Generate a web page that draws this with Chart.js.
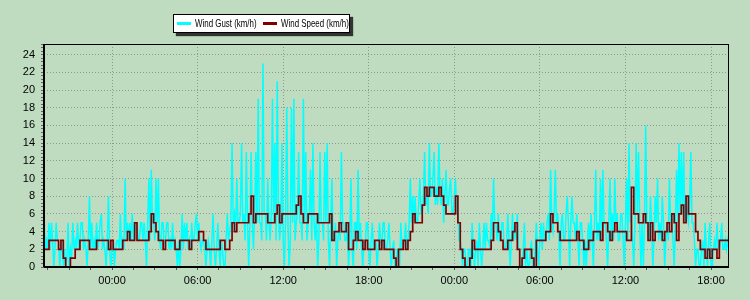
<!DOCTYPE html>
<html>
<head>
<meta charset="utf-8">
<script src="https://cdn.jsdelivr.net/npm/chart.js@4.4.0/dist/chart.umd.min.js"></script>
<style>
  html, body { margin: 0; padding: 0; background: #c0dcc0; }
  #wrap { position: relative; width: 750px; height: 300px; }
  #legend {
    position: absolute; left: 173px; top: 14px; width: 177px; height: 19px;
    box-sizing: border-box; border: 1px solid #000; background: #fff;
    box-shadow: 3px 3px 1px #333;
    font: 11px Arial, "Liberation Sans", sans-serif; color: #000;
  }
  #legend .sw { position: absolute; top: 7px; width: 14px; height: 3px; }
  #legend .txt {
    position: absolute; top: 2px; line-height: 13px; white-space: nowrap;
    transform: scaleX(0.72); transform-origin: 0 50%;
  }
</style>
</head>
<body>
<div id="wrap">
  <canvas id="chart" width="750" height="300"></canvas>
  <div id="legend"></div>
</div>
<script>
// hours relative to the first midnight; both series start at 19:15
const startHour = -4.75;
const gustStep = 1 / 12;   // every 5 minutes
const speedStep = 1 / 6;   // every 10 minutes

// wind gust, one row per hour
const gust = [
  5, 2, 3, 2, 5, 2, 5, 3, 0, 2, 5, 3,
  3, 0, 2, 3, 0, 2, 0, 1, 5, 0, 2, 1,
  5, 2, 3, 2, 5, 2, 3, 5, 5, 2, 3, 2,
  0, 3, 8, 2, 5, 2, 3, 2, 5, 2, 3, 5,
  6, 2, 3, 2, 0, 3, 8, 2, 0, 2, 3, 0,
  2, 3, 3, 2, 6, 2, 3, 2, 10, 3, 5, 3,
  5, 3, 6, 3, 3, 5, 5, 3, 3, 5, 5, 3,
  5, 3, 0, 5, 10, 3, 11, 5, 5, 3, 10, 5,
  10, 3, 2, 5, 5, 2, 3, 5, 5, 2, 3, 2,
  5, 2, 3, 2, 0, 3, 0, 2, 6, 2, 5, 3,
  5, 2, 3, 2, 5, 3, 3, 5, 6, 3, 5, 3,
  2, 3, 3, 2, 0, 2, 3, 2, 0, 3, 6, 2,
  0, 2, 5, 2, 0, 3, 2, 0, 0, 3, 6, 3,
  4, 5, 14, 5, 6, 4, 10, 5, 5, 6, 14, 5,
  6, 3, 13, 5, 0, 5, 13, 5, 2, 6, 13, 5,
  19, 5, 5, 3, 23, 6, 6, 3, 10, 5, 3, 6,
  19, 5, 14, 3, 21, 6, 3, 5, 14, 3, 0, 5,
  18, 5, 0, 3, 18, 5, 19, 3, 5, 6, 13, 5,
  5, 3, 19, 5, 13, 3, 5, 6, 11, 3, 14, 5,
  3, 6, 0, 3, 13, 5, 5, 3, 13, 5, 14, 3,
  0, 5, 10, 3, 3, 5, 0, 3, 5, 3, 13, 5,
  5, 3, 3, 5, 0, 3, 10, 2, 0, 5, 5, 2,
  11, 3, 5, 2, 0, 3, 2, 5, 5, 2, 0, 3,
  5, 2, 2, 3, 0, 2, 5, 3, 2, 5, 5, 2,
  2, 3, 5, 2, 0, 2, 3, 0, 0, 2, 2, 0,
  5, 2, 2, 3, 5, 2, 3, 5, 10, 5, 8, 5,
  8, 5, 5, 7, 10, 6, 6, 8, 13, 7, 8, 6,
  14, 8, 8, 10, 13, 7, 9, 7, 14, 8, 7, 10,
  5, 8, 11, 7, 7, 9, 10, 6, 6, 8, 10, 6,
  6, 3, 3, 2, 0, 2, 2, 0, 0, 2, 2, 0,
  5, 2, 0, 2, 3, 0, 5, 2, 0, 2, 5, 2,
  5, 3, 3, 2, 6, 3, 10, 5, 5, 3, 6, 3,
  3, 5, 5, 2, 2, 3, 6, 3, 0, 3, 6, 3,
  5, 3, 6, 2, 2, 0, 0, 2, 5, 0, 2, 0,
  0, 2, 3, 0, 0, 2, 5, 2, 0, 3, 5, 2,
  5, 3, 3, 5, 6, 3, 11, 5, 4, 6, 11, 5,
  6, 3, 0, 5, 6, 3, 3, 6, 8, 5, 0, 5,
  8, 5, 5, 3, 6, 3, 0, 5, 5, 3, 0, 3,
  0, 3, 5, 2, 6, 3, 0, 5, 11, 3, 5, 3,
  10, 3, 11, 5, 5, 3, 0, 5, 10, 3, 6, 3,
  10, 5, 6, 3, 3, 6, 6, 3, 0, 5, 10, 3,
  14, 5, 6, 3, 0, 5, 14, 6, 13, 5, 0, 5,
  0, 5, 16, 5, 5, 3, 8, 5, 0, 3, 8, 5,
  10, 3, 5, 3, 8, 5, 0, 3, 5, 3, 10, 5,
  5, 3, 0, 5, 11, 5, 14, 6, 13, 6, 13, 5,
  8, 6, 5, 7, 13, 5, 5, 3, 0, 2, 2, 0,
  0, 2, 3, 0, 5, 2, 0, 3, 5, 0, 0, 2,
  3, 2, 5, 2, 2, 3, 5, 2, 2, 3, 2, 3,
  2
];

// wind speed, one row per hour
const speed = [
  2, 2, 3, 3, 3, 3,
  2, 3, 1, 0, 0, 1,
  1, 2, 2, 3, 3, 3,
  3, 2, 2, 2, 3, 3,
  3, 3, 3, 2, 3, 2,
  2, 2, 2, 3, 3, 4,
  3, 3, 5, 3, 3, 3,
  3, 3, 4, 6, 5, 4,
  3, 3, 2, 3, 3, 3,
  3, 2, 2, 3, 3, 3,
  3, 2, 3, 3, 3, 4,
  4, 3, 2, 2, 2, 2,
  2, 2, 3, 3, 2, 2,
  3, 5, 4, 5, 5, 5,
  5, 5, 6, 8, 5, 6,
  6, 6, 6, 6, 5, 5,
  5, 6, 7, 5, 6, 6,
  6, 6, 6, 6, 7, 8,
  6, 5, 5, 6, 6, 6,
  6, 5, 5, 5, 5, 5,
  6, 3, 4, 4, 5, 4,
  4, 5, 2, 2, 3, 4,
  3, 3, 2, 3, 2, 2,
  2, 3, 3, 2, 3, 2,
  2, 2, 2, 1, 0, 2,
  2, 3, 2, 3, 4, 6,
  5, 5, 5, 7, 9, 8,
  9, 9, 8, 8, 9, 8,
  7, 6, 6, 6, 6, 8,
  5, 2, 1, 0, 0, 1,
  3, 2, 2, 2, 2, 2,
  2, 2, 3, 5, 5, 4,
  3, 2, 2, 3, 3, 4,
  5, 2, 0, 1, 2, 2,
  2, 1, 0, 3, 3, 3,
  3, 4, 4, 6, 5, 5,
  4, 3, 3, 3, 3, 3,
  3, 3, 4, 3, 3, 2,
  2, 3, 3, 4, 4, 4,
  3, 5, 5, 4, 3, 4,
  5, 4, 4, 4, 4, 3,
  3, 9, 6, 6, 5, 5,
  6, 5, 3, 5, 3, 4,
  4, 4, 3, 4, 5, 4,
  6, 5, 3, 6, 7, 5,
  8, 6, 6, 6, 4, 3,
  2, 2, 1, 2, 1, 2,
  2, 1, 3, 3, 3, 3,
  3
];

const seriesNames = ['Wind Gust (km/h)', 'Wind Speed (km/h)'];
const seriesColors = ['#00ffff', '#800000'];

const toPoints = (arr, step) => arr.map((v, i) => ({ x: startHour + i * step, y: v }));

Chart.defaults.font.family = 'Arial, "Liberation Sans", sans-serif';
Chart.defaults.font.size = 11;
Chart.defaults.color = '#000';

// black frame around the plot, heavier on the left and bottom
const framePlugin = {
  id: 'frame',
  afterDraw(chart) {
    const { ctx, chartArea: a } = chart;
    ctx.save();
    ctx.strokeStyle = '#000';
    ctx.lineWidth = 1;
    ctx.strokeRect(a.left + 0.5, a.top + 0.5, a.right - a.left - 1, a.bottom - a.top);
    ctx.lineWidth = 2;
    ctx.beginPath();
    ctx.moveTo(a.left, a.bottom);
    ctx.lineTo(a.right, a.bottom);
    ctx.moveTo(a.left, a.top);
    ctx.lineTo(a.left, a.bottom);
    ctx.stroke();
    ctx.restore();
  }
};

const isMultiple = (v, m) => Math.abs(v / m - Math.round(v / m)) < 1e-6;

// ticks every 1.5 h, labelled every 6 h
function hourTicks(scale) {
  const ticks = [];
  for (let v = Math.ceil(scale.min / 1.5) * 1.5; v <= scale.max; v += 1.5) {
    ticks.push({ value: Math.round(v * 10) / 10 });
  }
  scale.ticks = ticks;
}

new Chart(document.getElementById('chart'), {
  type: 'line',
  data: {
    datasets: [
      {
        label: seriesNames[0],
        data: toPoints(gust, gustStep),
        borderColor: seriesColors[0],
        borderWidth: 1.5,
        pointRadius: 0,
        tension: 0,
        order: 2
      },
      {
        label: seriesNames[1],
        data: toPoints(speed, speedStep),
        borderColor: seriesColors[1],
        borderWidth: 1.7,
        pointRadius: 0,
        stepped: true,
        order: 1
      }
    ]
  },
  options: {
    responsive: false,
    animation: false,
    layout: { padding: { left: 0, top: 44, right: 21, bottom: 0 } },
    plugins: { legend: { display: false }, tooltip: { enabled: false } },
    scales: {
      x: {
        type: 'linear',
        bounds: 'data',
        min: -4.77,
        max: 43.26,
        afterFit: s => { s.height = 33; },
        afterBuildTicks: hourTicks,
        ticks: {
          autoSkip: false,
          maxRotation: 0,
          padding: 4,
          callback: v => {
            if (!isMultiple(v, 6)) return '';
            const h = ((Math.round(v) % 24) + 24) % 24;
            return String(h).padStart(2, '0') + ':00';
          }
        },
        grid: {
          color: c => (c.tick && isMultiple(c.tick.value, 6) ? '#8c9c8c' : 'transparent'),
          tickColor: '#555',
          tickLength: 3
        },
        border: { display: false, dash: [1, 2] }
      },
      y: {
        bounds: 'data',
        min: 0,
        max: 25.2,
        afterFit: s => { s.width = 44; },
        ticks: {
          stepSize: 0.4,
          includeBounds: false,
          autoSkip: false,
          padding: 6,
          callback: v => (isMultiple(v, 2) && v <= 24 ? String(Math.round(v)) : '')
        },
        grid: {
          color: c => (c.tick && isMultiple(c.tick.value, 2) && c.tick.value > 0 && c.tick.value <= 24 ? '#8c9c8c' : 'transparent'),
          tickColor: '#666',
          tickLength: 3
        },
        border: { display: false, dash: [1, 2] }
      }
    }
  },
  plugins: [framePlugin]
});

// legend box
const legend = document.getElementById('legend');
const legendPos = [{ sw: 3, txt: 21 }, { sw: 89, txt: 107 }];
seriesNames.forEach((name, i) => {
  const sw = document.createElement('span');
  sw.className = 'sw';
  sw.style.left = legendPos[i].sw + 'px';
  sw.style.background = seriesColors[i];
  const txt = document.createElement('span');
  txt.className = 'txt';
  txt.style.left = legendPos[i].txt + 'px';
  txt.textContent = name;
  legend.appendChild(sw);
  legend.appendChild(txt);
});
</script>
</body>
</html>
